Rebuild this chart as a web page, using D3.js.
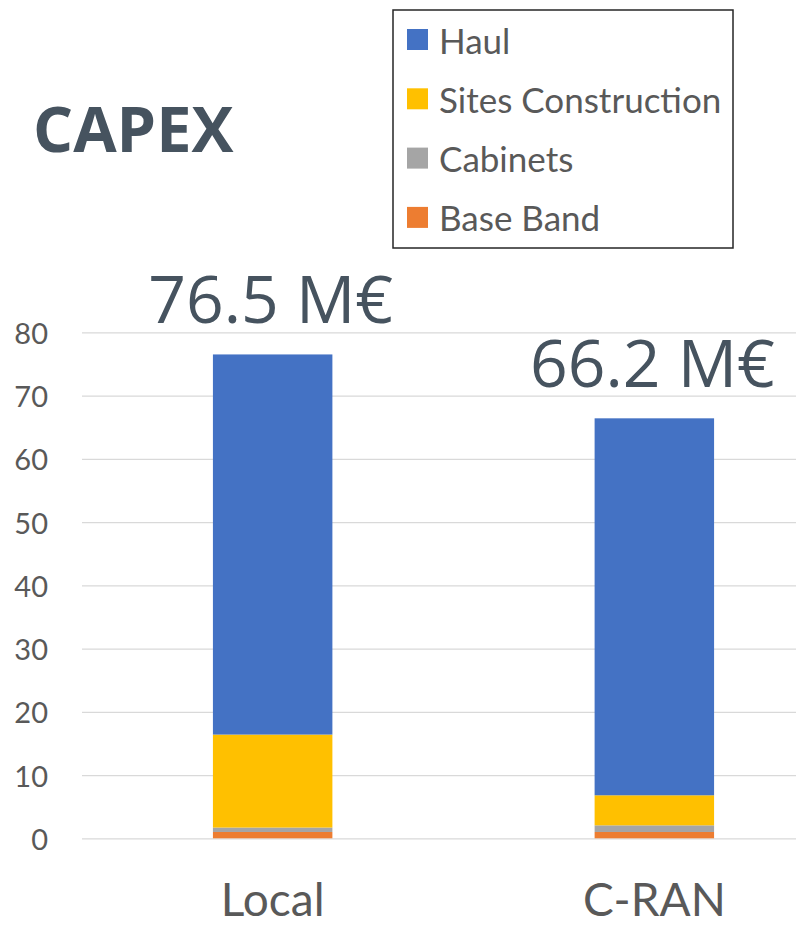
<!DOCTYPE html>
<html>
<head>
<meta charset="utf-8">
<script src="https://cdn.jsdelivr.net/npm/d3@7"></script>
<style>
  body { margin: 0; background: #fff; }
  svg { display: block; }
  .tick text { font-family: Lato, sans-serif; fill: #595959; }
</style>
</head>
<body>
<svg></svg>
<script>
// categories and stacked series (M€)
var categories = ["Local", "C-RAN"];
var seriesNames = ["Base Band", "Cabinets", "Sites Construction", "Haul"];
var baseBand = [1.0, 1.0];
var cabinets = [0.7, 1.05];
var sitesConstruction = [14.7, 4.75];
var haul = [60.1, 59.6];
var totalLabels = ["76.5 M€", "66.2 M€"];
var yTicks = [0, 10, 20, 30, 40, 50, 60, 70, 80];
var legendOrder = ["Haul", "Sites Construction", "Cabinets", "Base Band"];

var colors = {"Haul": "#4472C4", "Sites Construction": "#FFC000", "Cabinets": "#A5A5A5", "Base Band": "#ED7D31"};

var width = 796, height = 926;
var svg = d3.select("svg").attr("width", width).attr("height", height);

// build rows for d3.stack
var rows = categories.map(function(c, i) {
  return {cat: c, "Base Band": baseBand[i], "Cabinets": cabinets[i],
          "Sites Construction": sitesConstruction[i], "Haul": haul[i]};
});
var stacked = d3.stack().keys(seriesNames)(rows);

var xScale = d3.scaleBand().domain(categories).range([82, 845])
    .paddingInner(0.687).paddingOuter(0.343);
var yScale = d3.scaleLinear().domain([0, 80]).range([838.3, 332.3]);

// gridlines + tick labels
var yAxis = d3.axisLeft(yScale).tickValues(yTicks).tickSize(-(width - 82)).tickPadding(34);
svg.append("g")
    .attr("transform", "translate(82,0)")
    .call(yAxis)
    .call(function(g) {
      g.select(".domain").remove();
      g.selectAll(".tick line").attr("stroke", "#d9d9d9").attr("stroke-width", 1.3);
      g.selectAll(".tick text").style("font-size", "29px").attr("dy", "0.38em");
    });

// bars
svg.append("g").selectAll("g")
    .data(stacked)
  .enter().append("g")
    .attr("fill", function(d) { return colors[d.key]; })
  .selectAll("rect")
    .data(function(d) { return d; })
  .enter().append("rect")
    .attr("x", function(d) { return xScale(d.data.cat); })
    .attr("y", function(d) { return yScale(d[1]); })
    .attr("width", xScale.bandwidth())
    .attr("height", function(d) { return yScale(d[0]) - yScale(d[1]); });

// total labels above bars
var topLayer = stacked[stacked.length - 1];
svg.append("g").selectAll("text")
    .data(topLayer)
  .enter().append("text")
    .attr("x", function(d) { return xScale(d.data.cat) + xScale.bandwidth() / 2 - 2; })
    .attr("y", function(d) { return yScale(d[1]) - 31; })
    .attr("text-anchor", "middle")
    .style("font-family", "'Open Sans', sans-serif")
    .style("font-size", "66px")
    .style("fill", "#46535f")
    .text(function(d, i) { return totalLabels[i]; });

// category labels
var xAxis = d3.axisBottom(xScale).tickSize(0).tickPadding(0);
svg.append("g")
    .attr("transform", "translate(0,916)")
    .call(xAxis)
    .call(function(g) {
      g.select(".domain").remove();
      g.selectAll(".tick text").style("font-size", "46px").attr("dy", 0).attr("y", 0);
    });

// title
svg.append("text")
    .attr("x", 33)
    .attr("y", 152)
    .style("font-family", "'Open Sans', sans-serif")
    .style("font-weight", "bold")
    .style("font-size", "63px")
    .style("fill", "#46535f")
    .text("CAPEX");

// legend
var legend = svg.append("g").attr("transform", "translate(393,10)");
legend.append("rect")
    .attr("width", 340).attr("height", 238)
    .attr("fill", "#fff").attr("stroke", "#262626").attr("stroke-width", 1.5);

var item = legend.selectAll(".legend")
    .data(legendOrder)
  .enter().append("g")
    .attr("class", "legend")
    .attr("transform", function(d, i) { return "translate(0," + i * 59.3 + ")"; });

item.append("rect")
    .attr("x", 14).attr("y", 19)
    .attr("width", 21).attr("height", 21)
    .attr("fill", function(d) { return colors[d]; });

item.append("text")
    .attr("x", 46).attr("y", 43.5)
    .style("font-family", "Lato, sans-serif")
    .style("font-size", "35px")
    .style("fill", "#595959")
    .text(function(d) { return d; });
</script>
</body>
</html>
